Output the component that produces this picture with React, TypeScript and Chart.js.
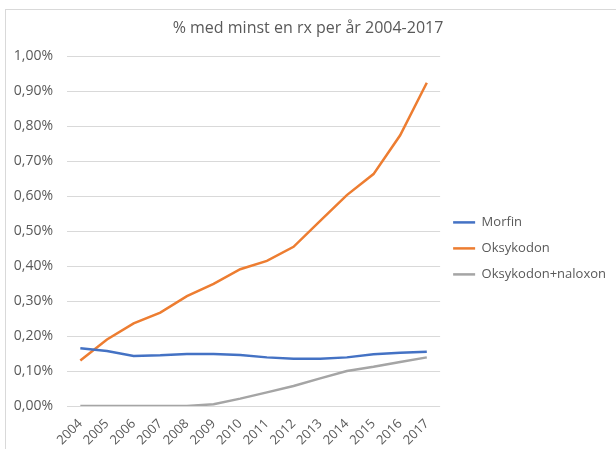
import React, { useEffect, useRef } from "react";
import { Chart, registerables } from "chart.js";

Chart.register(...registerables);

const years = ["2004", "2005", "2006", "2007", "2008", "2009", "2010", "2011", "2012", "2013", "2014", "2015", "2016", "2017"];
const morfin = [0.165, 0.157, 0.143, 0.145, 0.149, 0.149, 0.146, 0.139, 0.135, 0.135, 0.139, 0.148, 0.152, 0.155];
const oksykodon = [0.13, 0.19, 0.236, 0.267, 0.314, 0.349, 0.391, 0.415, 0.455, 0.529, 0.603, 0.663, 0.774, 0.924];
const oksykodonNaloxon = [0, 0, 0, 0, 0, 0.005, 0.021, 0.039, 0.057, 0.079, 0.1, 0.112, 0.126, 0.139];
const seriesNames = ["Morfin", "Oksykodon", "Oksykodon+naloxon"];
const seriesColors = ["#4472C4", "#ED7D31", "#A5A5A5"];
const yMin = 0;
const yMax = 1.0;
const yStep = 0.1;
const titleText = "% med minst en rx per år 2004-2017";

const FONT = "'Open Sans', sans-serif";
const TEXT = "#595959";

export default function App() {
  const ref = useRef<HTMLCanvasElement | null>(null);
  useEffect(() => {
    if (!ref.current) return;
    const values = [morfin, oksykodon, oksykodonNaloxon];
    const chart = new Chart(ref.current, {
      type: "line",
      data: {
        labels: years,
        datasets: values.map((d, i) => ({
          label: seriesNames[i],
          data: d,
          borderColor: seriesColors[i],
          backgroundColor: seriesColors[i],
          borderWidth: 2.5,
          pointRadius: 0,
          pointStyle: "line",
          tension: 0,
          fill: false,
        })),
      },
      options: {
        responsive: false,
        animation: false,
        devicePixelRatio: 1,
        layout: { padding: { left: 0, right: 0, top: 0, bottom: 0 } },
        plugins: {
          title: {
            display: true,
            text: titleText,
            color: TEXT,
            font: { family: FONT, size: 16, weight: "normal" },
            padding: { top: 19, bottom: 18 },
          },
          legend: {
            position: "right",
            maxWidth: 176,
            title: { display: true, text: " ", font: { family: FONT, size: 14 }, padding: { top: 31, bottom: 0 } },
            labels: {
              color: TEXT,
              font: { family: FONT, size: 13 },
              usePointStyle: true,
              pointStyleWidth: 22,
              padding: 13,
            },
          },
          tooltip: { enabled: false },
        },
        scales: {
          x: {
            offset: true,
            grid: { display: false },
            border: { display: false },
            ticks: {
              color: TEXT,
              font: { family: FONT, size: 13 },
              minRotation: 45,
              maxRotation: 45,
              autoSkip: false,
              padding: 2,
            },
            afterFit: (s: any) => {
              s.height = 43;
            },
          },
          y: {
            min: yMin,
            max: yMax,
            grid: { color: "#D9D9D9", lineWidth: 1, drawTicks: false },
            border: { display: false },
            ticks: {
              stepSize: yStep,
              color: TEXT,
              font: { family: FONT, size: 14 },
              padding: 14,
              callback: (v: any) => Number(v).toFixed(2).replace(".", ",") + "%",
            },
            afterFit: (s: any) => {
              s.width = 67;
            },
          },
        },
      },
    });
    return () => chart.destroy();
  }, []);
  return (
    <div style={{ position: "fixed", left: 0, top: 0, width: 616, height: 449, background: "#fff", overflow: "hidden" }}>
      <div style={{ position: "absolute", left: 5, top: 9, width: 640, height: 480, border: "1px solid #D9D9D9" }} />
      <canvas ref={ref} width={616} height={449} style={{ position: "absolute", left: 0, top: 0, width: 616, height: 449 }} />
    </div>
  );
}
